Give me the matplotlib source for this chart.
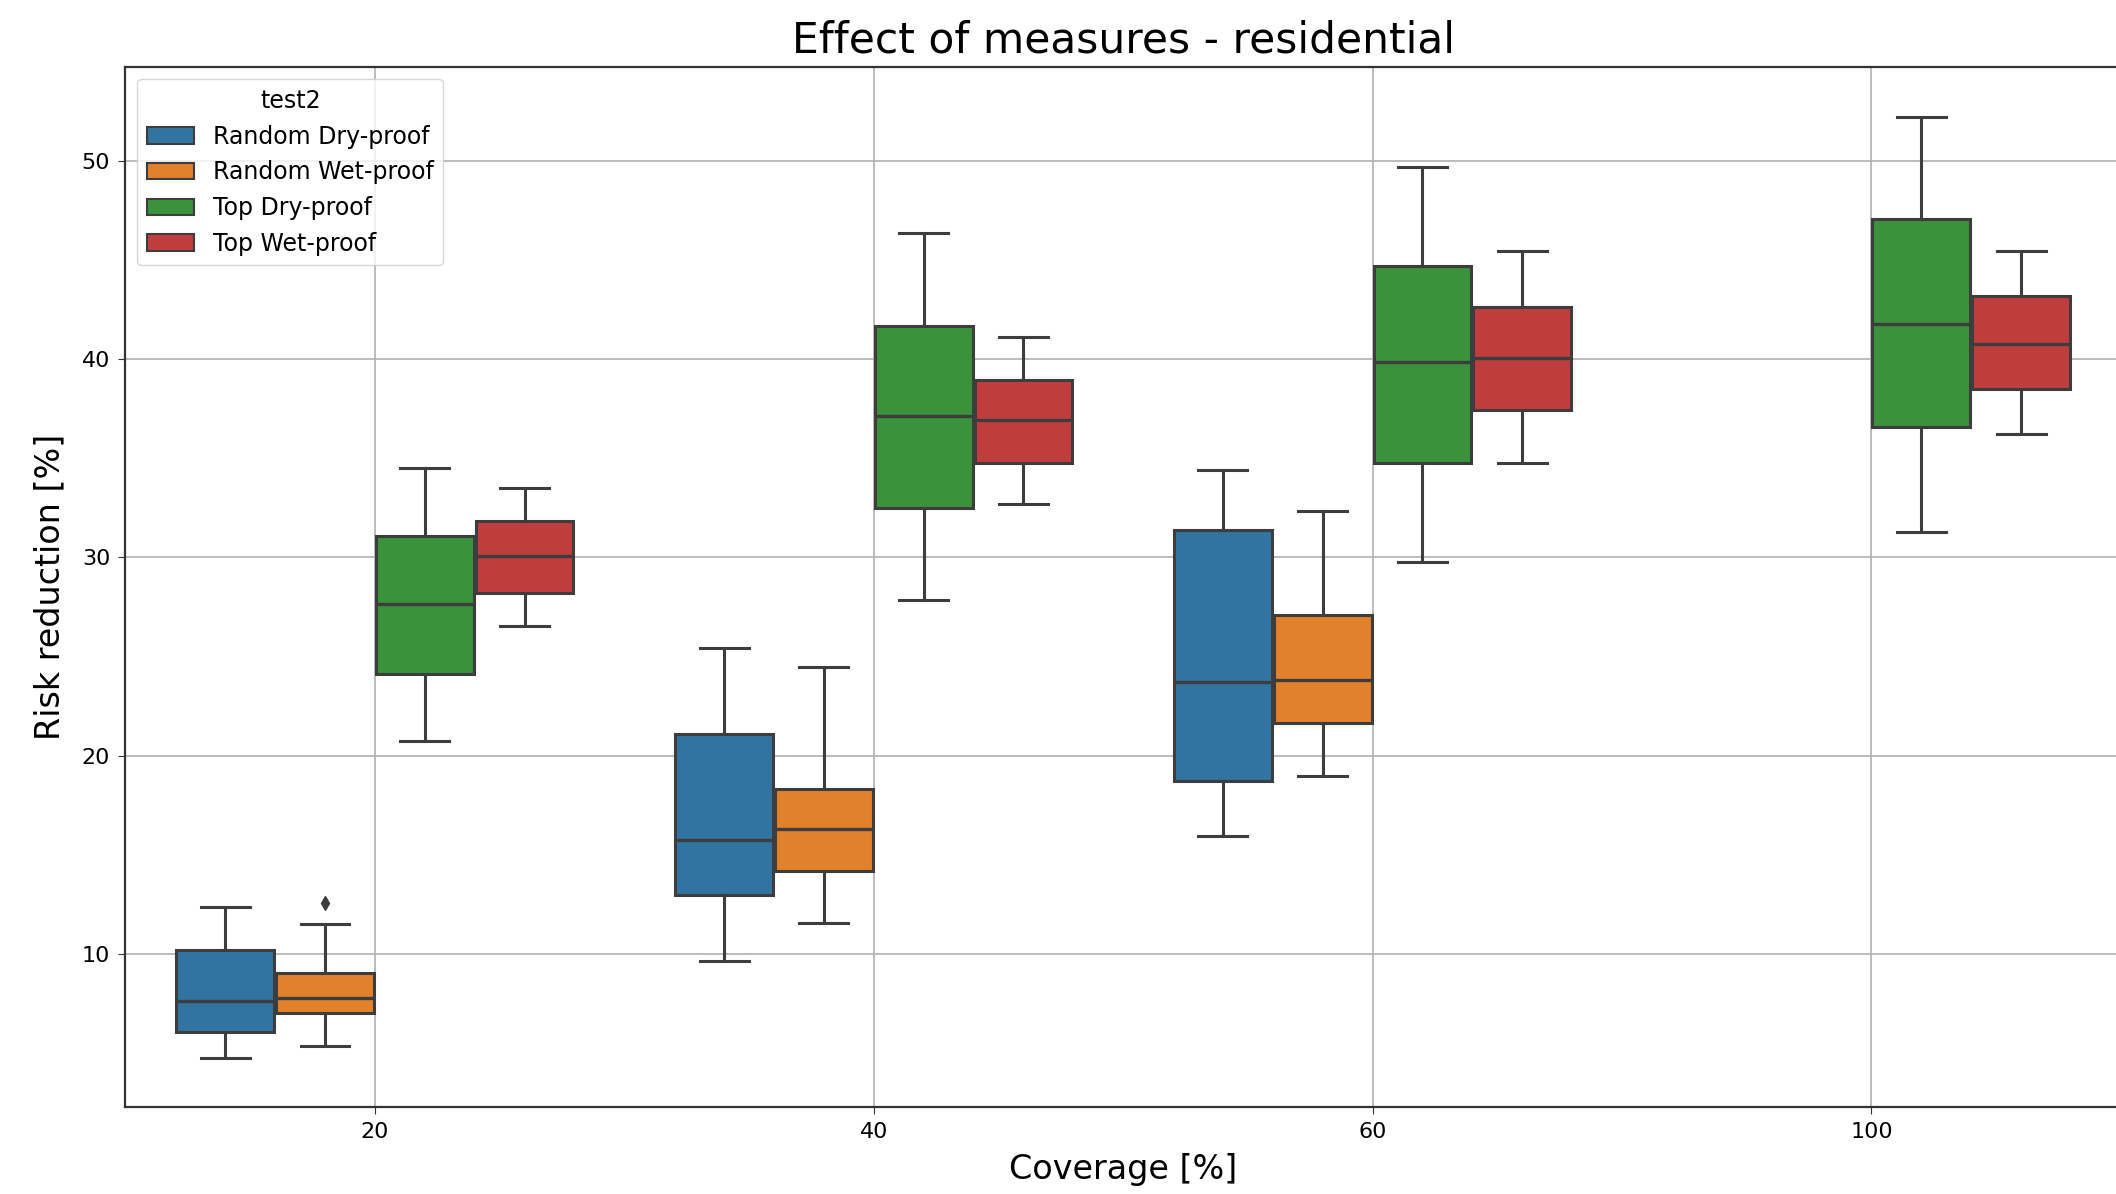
import numpy as np
import matplotlib
matplotlib.use("Agg")
import matplotlib.pyplot as plt
from matplotlib.patches import Patch

# coverage groups and hue levels
categories = ["20", "40", "60", "100"]
hues = ["Random Dry-proof", "Random Wet-proof", "Top Dry-proof", "Top Wet-proof"]

nan = np.nan
# box statistics, one row per hue, one column per coverage
whislo = [[4.78, 9.67, 15.98, nan],
          [5.37, 11.56, 18.99, nan],
          [20.76, 27.84, 29.78, 31.29],
          [26.55, 32.70, 34.77, 36.21]]
q1 = [[6.08, 13.00, 18.72, nan],
      [7.05, 14.20, 21.64, nan],
      [24.12, 32.50, 34.77, 36.60],
      [28.22, 34.78, 37.42, 38.49]]
med = [[7.64, 15.76, 23.73, nan],
       [7.81, 16.32, 23.80, nan],
       [27.66, 37.13, 39.83, 41.76],
       [30.07, 36.93, 40.07, 40.77]]
q3 = [[10.22, 21.11, 31.40, nan],
      [9.07, 18.32, 27.10, nan],
      [31.09, 41.66, 44.70, 47.05],
      [31.85, 38.95, 42.65, 43.19]]
whishi = [[12.36, 25.44, 34.39, nan],
          [11.52, 24.46, 32.34, nan],
          [34.49, 46.35, 49.66, 52.22],
          [33.50, 41.10, 45.47, 45.47]]
fliers = [[[], [], [], []],
          [[12.6], [], [], []],
          [[], [], [], []],
          [[], [], [], []]]

colors = ["#3274a1", "#e1812c", "#3a923a", "#c03d3e"]
gray = "#3d3d3d"

fig = plt.figure(figsize=(21.16, 11.94), dpi=100)
ax = fig.add_axes([0.0593, 0.0729, 0.943, 0.8706])

n_hue = len(hues)
slot = 0.8 / n_hue
box_w = slot * 0.98
for h in range(n_hue):
    stats, pos = [], []
    for c in range(len(categories)):
        if np.isnan(med[h][c]):
            continue
        stats.append(dict(whislo=whislo[h][c], q1=q1[h][c], med=med[h][c],
                          q3=q3[h][c], whishi=whishi[h][c], fliers=fliers[h][c]))
        pos.append(c - 0.4 + slot * (h + 0.5))
    ax.bxp(stats, positions=pos, widths=box_w, patch_artist=True, manage_ticks=False,
           boxprops=dict(facecolor=colors[h], edgecolor=gray, linewidth=2.2),
           medianprops=dict(color=gray, linewidth=2.4),
           whiskerprops=dict(color=gray, linewidth=2.2),
           capprops=dict(color=gray, linewidth=2.2),
           flierprops=dict(marker="d", markerfacecolor=gray, markeredgecolor=gray,
                           markersize=7))

ax.set_xticks(range(len(categories)))
ax.set_xticklabels(categories)
ax.set_xlim(-0.5, len(categories) - 0.5)
ax.set_ylim(2.3, 54.7)
ax.set_yticks([10, 20, 30, 40, 50])
ax.tick_params(labelsize=16, length=5, pad=6, color="#333333")
ax.grid(True, color="#b0b0b0", linewidth=1.2)
for sp in ax.spines.values():
    sp.set_linewidth(1.6)
    sp.set_color("#333333")

ax.set_title("Effect of measures - residential", fontsize=30.5, pad=11)
ax.set_xlabel("Coverage [%]", fontsize=24, labelpad=8)
ax.set_ylabel("Risk reduction [%]", fontsize=24, labelpad=11)

handles = [Patch(facecolor=colors[i], edgecolor=gray, linewidth=1.5, label=hues[i])
           for i in range(n_hue)]
ax.legend(handles=handles, title="test2", loc="upper left", fontsize=17,
          title_fontsize=17, labelspacing=0.5, borderaxespad=0.5)

fig.savefig("out.png", dpi=100)
